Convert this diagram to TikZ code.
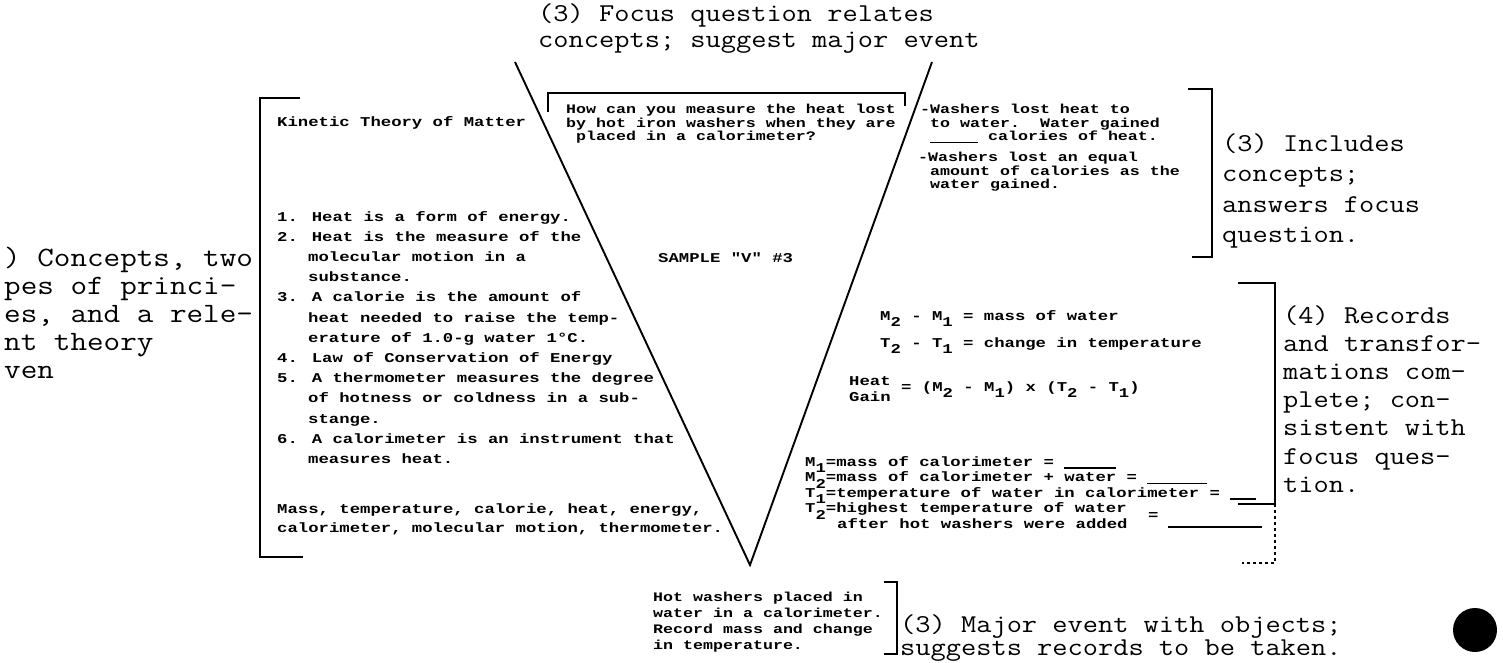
\documentclass[tikz,border=0pt]{standalone}
\usepackage{fontspec}
\newfontfamily\smallmono[FakeStretch=1.28]{Liberation Mono}
\newfontfamily\bigmono[FakeStretch=1.15]{Latin Modern Mono}
\newcommand{\lowd}[1]{\raisebox{-0.5em}{#1}}
\newcommand{\blank}[1]{\rule[-2.5pt]{#1pt}{1.2pt}}
\tikzset{
  arm/.style={line width=1.9pt, black},
  brk/.style={line width=2.2pt, black},
  tsm/.style={font=\smallmono\bfseries\fontsize{13.5}{16}\selectfont, anchor=base west, inner sep=0pt},
  tsn/.style={font=\smallmono\bfseries\fontsize{13}{15}\selectfont, anchor=base west, inner sep=0pt},
  tlab/.style={font=\bigmono\fontsize{25.7}{26}\selectfont, anchor=base west, inner sep=0pt},
  tleft/.style={font=\bigmono\fontsize{28}{28}\selectfont, anchor=base west, inner sep=0pt},
}
\begin{document}
\begin{tikzpicture}[x=1pt,y=-1pt]
\useasboundingbox (0,0) rectangle (1503,663);
% ---------- top label
\node[tlab] (top1) at (538,22) {(3) Focus question relates};
\node[tlab] (top2) at (538,48) {concepts; suggest major event};
% ---------- the V
\coordinate (vl) at (515,62);
\coordinate (vr) at (932,62);
\coordinate (apex) at (750,565);
\draw[arm] (vl) -- (apex) -- (vr);
% ---------- focus question box
\coordinate (fq1) at (548,112);
\coordinate (fq2) at (548,93);
\coordinate (fq3) at (905,93);
\coordinate (fq4) at (905,106);
\draw[arm] (fq1) -- (fq2) -- (fq3) -- (fq4);
\node[tsn] (fqa) at (566,114) {How can you measure the heat lost};
\node[tsn] (fqb) at (566,127.5) {by hot iron washers when they are};
\node[tsn] (fqc) at (576,141) {placed in a calorimeter?};
% ---------- left bracket: theory, principles, concepts
\coordinate (lb1) at (300,98);
\coordinate (lb2) at (260,98);
\coordinate (lb3) at (260,557);
\coordinate (lb4) at (303,557);
\draw[brk] (lb1) -- (lb2) -- (lb3) -- (lb4);
\node[tsm] (kin) at (277,127) {Kinetic Theory of Matter};
\node[tsm] (p1)  at (277,221)   {1. Heat is a form of energy.};
\node[tsm] (p2)  at (277,241.2) {2. Heat is the measure of the};
\node[tsm] (p2a) at (308,261.4) {molecular motion in a};
\node[tsm] (p2b) at (308,281.6) {substance.};
\node[tsm] (p3)  at (277,301.8) {3. A calorie is the amount of};
\node[tsm] (p3a) at (308,322)   {heat needed to raise the temp-};
\node[tsm] (p3b) at (308,342.2) {erature of 1.0-g water 1°C.};
\node[tsm] (p4)  at (277,362.4) {4. Law of Conservation of Energy};
\node[tsm] (p5)  at (277,382.6) {5. A thermometer measures the degree};
\node[tsm] (p5a) at (308,402.8) {of hotness or coldness in a sub-};
\node[tsm] (p5b) at (308,423)   {stange.};
\node[tsm] (p6)  at (277,443.2) {6. A calorimeter is an instrument that};
\node[tsm] (p6a) at (308,463.4) {measures heat.};
\node[tsm] (cc1) at (277,513) {Mass, temperature, calorie, heat, energy,};
\node[tsm] (cc2) at (277,532) {calorimeter, molecular motion, thermometer.};
% ---------- left label (only the part inside the picture)
\node[tleft] (l1) at (4,266) {) Concepts, two};
\node[tleft] (l2) at (4,294) {pes of princi-};
\node[tleft] (l3) at (4,322) {es, and a rele-};
\node[tleft] (l4) at (4,350) {nt theory};
\node[tleft] (l5) at (4,378) {ven};
% ---------- sample
\node[tsm] (sample) at (658,262) {SAMPLE "V" \#3};
% ---------- knowledge claims
\node[tsn] (w1) at (920,114) {-Washers lost heat to};
\node[tsn] (w2) at (930,127.5) {to water.\ \ Water gained};
\node[tsn] (w3) at (930,141) {\blank{48} calories of heat.};
\node[tsn] (w4) at (918,162) {-Washers lost an equal};
\node[tsn] (w5) at (930,175.5) {amount of calories as the};
\node[tsn] (w6) at (930,189) {water gained.};
\coordinate (b1a) at (1188,89);
\coordinate (b1b) at (1212,89);
\coordinate (b1c) at (1212,257);
\coordinate (b1d) at (1192,257);
\draw[brk] (b1a) -- (b1b) -- (b1c) -- (b1d);
\node[tlab] (i1) at (1222,152) {(3) Includes};
\node[tlab] (i2) at (1222,182) {concepts;};
\node[tlab] (i3) at (1222,212) {answers focus};
\node[tlab] (i4) at (1222,242) {question.};
% ---------- records and transformations
\node[tsm] (r1) at (880,320) {M\lowd{2} - M\lowd{1} = mass of water};
\node[tsm] (r2) at (880,347) {T\lowd{2} - T\lowd{1} = change in temperature};
\node[tsm] (r3) at (849,385) {Heat};
\node[tsm] (r3g) at (849,401) {Gain};
\node[tsm] (r3b) at (901,391) {= (M\lowd{2} - M\lowd{1}) x (T\lowd{2} - T\lowd{1})};
\node[tsm] (r4) at (805,466) {M\lowd{1}=mass of calorimeter = \blank{52}};
\node[tsm] (r5) at (805,481.5) {M\lowd{2}=mass of calorimeter + water = \blank{60}};
\node[tsm] (r6) at (805,497) {T\lowd{1}=temperature of water in calorimeter = \blank{26}};
\node[tsm] (r7) at (805,512.5) {T\lowd{2}=highest temperature of water};
\node[tsm] (r7e) at (1148,519) {=};
\node[tsm] (r8) at (837,528) {after hot washers were added};
\coordinate (bl1) at (1168,527);
\coordinate (bl2) at (1262,527);
\draw[line width=1.3pt] (bl1) -- (bl2);
\coordinate (b2a) at (1238,283);
\coordinate (b2b) at (1275,283);
\coordinate (b2c) at (1275,504);
\coordinate (b2d) at (1238,504);
\coordinate (b2e) at (1275,563);
\coordinate (b2f) at (1242,563);
\draw[brk] (b2a) -- (b2b) -- (b2c) -- (b2d);
\draw[line width=1.1pt, dashed] (b2c) -- (b2e) -- (b2f);
\node[tlab] (q1) at (1283,323) {(4) Records};
\node[tlab] (q2) at (1283,351.2) {and transfor-};
\node[tlab] (q3) at (1283,379.4) {mations com-};
\node[tlab] (q4) at (1283,407.6) {plete; con-};
\node[tlab] (q5) at (1283,435.8) {sistent with};
\node[tlab] (q6) at (1283,464) {focus ques-};
\node[tlab] (q7) at (1283,492.2) {tion.};
% ---------- event
\node[tsn] (e1) at (653,601) {Hot washers placed in};
\node[tsn] (e2) at (653,617) {water in a calorimeter.};
\node[tsn] (e3) at (653,633) {Record mass and change};
\node[tsn] (e4) at (653,649) {in temperature.};
\coordinate (b3a) at (884,582);
\coordinate (b3b) at (897,582);
\coordinate (b3c) at (897,654);
\coordinate (b3d) at (884,654);
\draw[brk] (b3a) -- (b3b) -- (b3c) -- (b3d);
\node[tlab] (m1) at (900,632) {(3) Major event with objects;};
\node[tlab] (m2) at (900,655) {suggests records to be taken.};
% ---------- dot
\fill (1475,630) circle (22);
\end{tikzpicture}
\end{document}
